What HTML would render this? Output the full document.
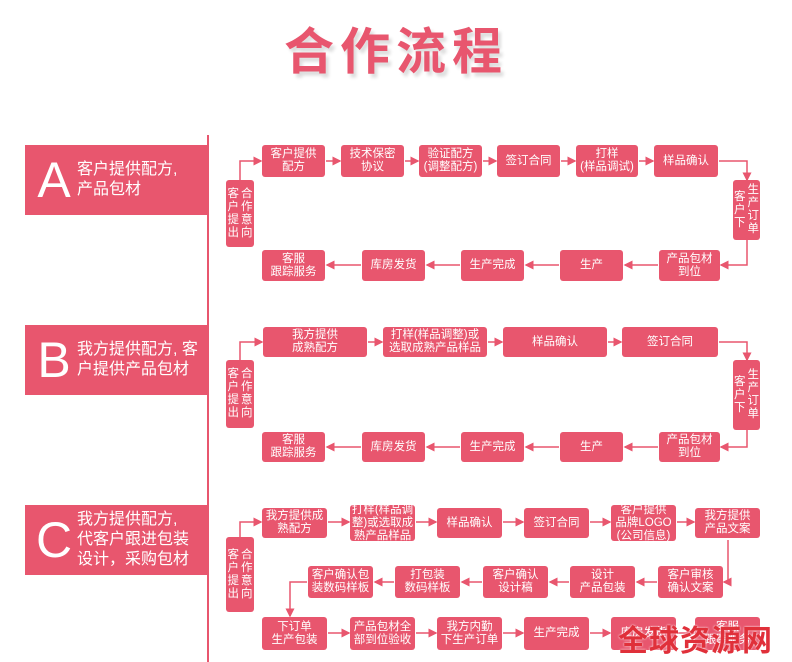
<!DOCTYPE html>
<html><head><meta charset="utf-8"><style>
body{margin:0;width:792px;height:662px;background:#fff;position:relative;overflow:hidden;font-family:"Liberation Sans","Noto Sans CJK SC",sans-serif}
.b{position:absolute;background:#e8566e;color:#fff;border-radius:3px;display:flex;align-items:center;justify-content:center;text-align:center;font-size:11.5px;line-height:13px}
.v{position:absolute;background:#e8566e;color:#fff;border-radius:3px;display:flex;justify-content:center;align-items:center;gap:2px;font-size:11.5px;line-height:13px;text-align:center}
.sec{position:absolute;left:25px;width:183px;height:70px;background:#e8566e;color:#fff;display:flex;align-items:center}
.sec .L{font-size:50px;width:46px;text-align:center;line-height:50px;margin-left:6px}
.sec .t{font-size:16px;line-height:20px}
svg{position:absolute;left:0;top:0}
</style></head><body>
<div style="position:absolute;left:0;width:792px;top:12px;text-align:center;font-size:50px;font-weight:bold;color:#e8566e;letter-spacing:6px;text-shadow:3px 4px 3px #ddd;font-family:'Noto Sans CJK SC',sans-serif">合作流程</div>
<div style="position:absolute;left:207px;top:135px;width:2px;height:527px;background:#e8566e"></div>

<div class="sec" style="top:145px"><div class="L">A</div><div class="t">客户提供配方,<br>产品包材</div></div>
<div class="sec" style="top:325px"><div class="L">B</div><div class="t">我方提供配方, 客<br>户提供产品包材</div></div>
<div class="sec" style="top:505px"><div class="L">C</div><div class="t">我方提供配方,<br>代客户跟进包装<br>设计，采购包材</div></div>

<svg width="792" height="662" stroke="#e8566e" fill="none" stroke-width="1.5">
<defs><marker id="a" markerWidth="6" markerHeight="6" refX="5" refY="3" orient="auto"><path d="M0,0L6,3L0,6z" fill="#e8566e" stroke="none"/></marker></defs>
<g marker-end="url(#a)">
<path d="M240,180V161H261"/><path d="M326,161H340"/><path d="M405,161H418"/><path d="M483,161H496"/><path d="M561,161H575"/><path d="M639,161H653"/>
<path d="M719,161H747V180"/><path d="M747,240V265H721"/>
<path d="M658,265H625"/><path d="M559,265H526"/><path d="M460,265H427"/><path d="M361,265H327"/>
<path d="M240,360V342H262"/><path d="M368,342H382"/><path d="M488,342H502"/><path d="M608,342H621"/>
<path d="M719,342H747V360"/><path d="M747,430V447H721"/>
<path d="M658,447H625"/><path d="M559,447H526"/><path d="M460,447H427"/><path d="M361,447H327"/>
<path d="M240,537V522H261"/><path d="M328,522H349"/><path d="M416,522H436"/><path d="M503,522H523"/><path d="M590,522H610"/><path d="M677,522H694"/>
<path d="M728,540V582H724"/>
<path d="M657,582H637"/><path d="M569,582H550"/><path d="M482,582H462"/><path d="M394,582H375"/>
<path d="M307,582H290V616"/>
<path d="M328,633H349"/><path d="M416,633H436"/><path d="M503,633H523"/><path d="M590,633H610"/><path d="M677,633H694"/>
</g></svg>

<div class="v" style="left:226px;top:180px;width:28px;height:67px"><div>客<br>户<br>提<br>出</div><div>合<br>作<br>意<br>向</div></div>
<div class="b" style="left:262px;top:145px;width:63px;height:32px">客户提供<br>配方</div>
<div class="b" style="left:341px;top:145px;width:63px;height:32px">技术保密<br>协议</div>
<div class="b" style="left:419px;top:145px;width:63px;height:32px">验证配方<br>(调整配方)</div>
<div class="b" style="left:497px;top:145px;width:63px;height:32px">签订合同</div>
<div class="b" style="left:576px;top:145px;width:62px;height:32px">打样<br>(样品调试)</div>
<div class="b" style="left:654px;top:145px;width:64px;height:32px">样品确认</div>
<div class="v" style="left:733px;top:180px;width:27px;height:60px"><div>客<br>户<br>下</div><div>生<br>产<br>订<br>单</div></div>
<div class="b" style="left:262px;top:250px;width:63px;height:31px">客服<br>跟踪服务</div>
<div class="b" style="left:362px;top:250px;width:63px;height:31px">库房发货</div>
<div class="b" style="left:461px;top:250px;width:63px;height:31px">生产完成</div>
<div class="b" style="left:560px;top:250px;width:63px;height:31px">生产</div>
<div class="b" style="left:659px;top:250px;width:61px;height:31px">产品包材<br>到位</div>

<div class="v" style="left:226px;top:360px;width:28px;height:68px"><div>客<br>户<br>提<br>出</div><div>合<br>作<br>意<br>向</div></div>
<div class="b" style="left:263px;top:327px;width:104px;height:30px">我方提供<br>成熟配方</div>
<div class="b" style="left:383px;top:327px;width:104px;height:30px">打样(样品调整)或<br>选取成熟产品样品</div>
<div class="b" style="left:503px;top:327px;width:104px;height:30px">样品确认</div>
<div class="b" style="left:622px;top:327px;width:96px;height:30px">签订合同</div>
<div class="v" style="left:733px;top:360px;width:27px;height:70px"><div>客<br>户<br>下</div><div>生<br>产<br>订<br>单</div></div>
<div class="b" style="left:262px;top:432px;width:63px;height:30px">客服<br>跟踪服务</div>
<div class="b" style="left:362px;top:432px;width:63px;height:30px">库房发货</div>
<div class="b" style="left:461px;top:432px;width:63px;height:30px">生产完成</div>
<div class="b" style="left:560px;top:432px;width:63px;height:30px">生产</div>
<div class="b" style="left:659px;top:432px;width:61px;height:30px">产品包材<br>到位</div>

<div class="v" style="left:226px;top:537px;width:28px;height:75px"><div>客<br>户<br>提<br>出</div><div>合<br>作<br>意<br>向</div></div>
<div class="b" style="left:262px;top:508px;width:65px;height:30px">我方提供成<br>熟配方</div>
<div class="b" style="left:350px;top:505px;width:65px;height:36px">打样(样品调<br>整)或选取成<br>熟产品样品</div>
<div class="b" style="left:437px;top:508px;width:65px;height:30px">样品确认</div>
<div class="b" style="left:524px;top:508px;width:65px;height:30px">签订合同</div>
<div class="b" style="left:611px;top:505px;width:65px;height:36px">客户提供<br>品牌LOGO<br>(公司信息)</div>
<div class="b" style="left:695px;top:508px;width:65px;height:30px">我方提供<br>产品文案</div>
<div class="b" style="left:308px;top:566px;width:65px;height:32px">客户确认包<br>装数码样板</div>
<div class="b" style="left:395px;top:566px;width:65px;height:32px">打包装<br>数码样板</div>
<div class="b" style="left:483px;top:566px;width:65px;height:32px">客户确认<br>设计稿</div>
<div class="b" style="left:570px;top:566px;width:65px;height:32px">设计<br>产品包装</div>
<div class="b" style="left:658px;top:566px;width:65px;height:32px">客户审核<br>确认文案</div>
<div class="b" style="left:262px;top:617px;width:65px;height:33px">下订单<br>生产包装</div>
<div class="b" style="left:350px;top:617px;width:65px;height:33px">产品包材全<br>部到位验收</div>
<div class="b" style="left:437px;top:617px;width:65px;height:33px">我方内勤<br>下生产订单</div>
<div class="b" style="left:524px;top:617px;width:65px;height:33px">生产完成</div>
<div class="b" style="left:611px;top:617px;width:65px;height:33px">库房发货</div>
<div class="b" style="left:695px;top:617px;width:65px;height:33px">客服<br>跟踪服务</div>
<div style="position:absolute;left:618px;top:620px;font-size:30px;font-weight:bold;color:#e0303a;letter-spacing:1px;font-family:'Noto Sans CJK SC',sans-serif;line-height:36px;text-shadow:0 0 2px #fff">全球资源网</div>
</body></html>
